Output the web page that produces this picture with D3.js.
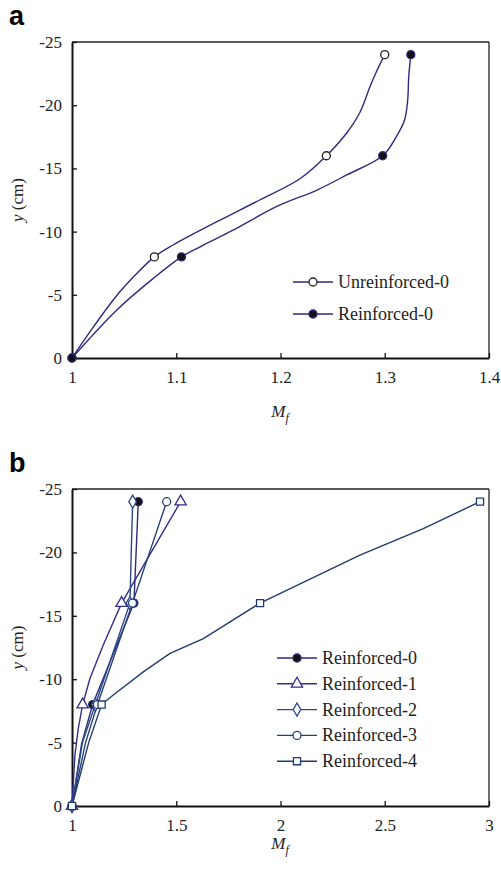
<!DOCTYPE html>
<html>
<head>
<meta charset="utf-8">
<script src="https://cdn.jsdelivr.net/npm/d3@7"></script>
<style>
  body { margin: 0; background: #fff; }
  svg text { font-family: "Liberation Serif", "DejaVu Serif", serif; }
  svg text.letter { font-family: "Liberation Sans", "DejaVu Sans", sans-serif; }
</style>
</head>
<body>
<svg id="chart" width="501" height="872"></svg>
<script>
// depths (cm) at which the markers sit
var depths = [0, -8, -16, -24];
var yTicks = [0, -5, -10, -15, -20, -25];

// panel a
var aXTicks = [1, 1.1, 1.2, 1.3, 1.4];
var aUnreinforcedMf = [1, 1.079, 1.244, 1.300];
var aReinforcedMf = [1, 1.105, 1.298, 1.325];
// traced curve points [Mf, y]
var aUnreinforcedPath = [[1, 0], [1.02, -2.4], [1.042, -4.85], [1.06, -6.5], [1.079, -8], [1.097, -8.94],
  [1.139, -10.78], [1.180, -12.5], [1.219, -14.2], [1.244, -16], [1.2635, -17.8], [1.276, -19.4],
  [1.286, -21.5], [1.292, -22.65], [1.300, -24]];
var aReinforcedPath = [[1, 0], [1.043, -3.8], [1.078, -6.3], [1.105, -8], [1.123, -8.8], [1.155, -10.13],
  [1.196, -11.97], [1.235, -13.29], [1.2635, -14.48], [1.298, -16], [1.311, -17.5], [1.319, -18.83],
  [1.322, -20.4], [1.323, -22.25], [1.325, -24]];

// panel b
var bXTicks = [1, 1.5, 2, 2.5, 3];
var bReinforced0Mf = [1, 1.099, 1.297, 1.318];
var bReinforced1Mf = [1, 1.051, 1.238, 1.521];
var bReinforced2Mf = [1, 1.112, 1.278, 1.291];
var bReinforced3Mf = [1, 1.122, 1.290, 1.454];
var bReinforced4Mf = [1, 1.142, 1.902, 2.957];
var bReinforced0Path = [[1, 0], [1.046, -4.9], [1.099, -8], [1.297, -16], [1.318, -24]];
var bReinforced1Path = [[1, 0], [1.014, -4], [1.030, -6.1], [1.051, -8], [1.086, -10.06], [1.15, -12.7],
  [1.238, -16], [1.521, -24]];
var bReinforced2Path = [[1, 0], [1.05, -5], [1.112, -8], [1.278, -16], [1.284, -20], [1.291, -24]];
var bReinforced3Path = [[1, 0], [1.065, -5], [1.122, -8], [1.290, -16], [1.454, -24]];
var bReinforced4Path = [[1, 0], [1.08, -5], [1.142, -8], [1.198, -8.75], [1.342, -10.58], [1.47, -12.03],
  [1.63, -13.2], [1.902, -16], [2.381, -19.78], [2.685, -21.88], [2.957, -24]];

var svg = d3.select("#chart");

function drawPanel(opt) {
    var x = d3.scaleLinear().domain(opt.xDomain).range([72, 489]);
    var y = d3.scaleLinear().domain([0, -25]).range([opt.bottom, opt.top]);
    var g = svg.append("g");

    // panel letter
    g.append("text").attr("class", "letter")
        .attr("x", 9).attr("y", opt.top - 17)
        .attr("font-weight", "bold").attr("font-size", 27)
        .text(opt.letter);

    // frame: top/right thin
    g.append("line").attr("x1", 72).attr("x2", 489).attr("y1", opt.top).attr("y2", opt.top)
        .attr("stroke", "#222").attr("stroke-width", 1.3);
    g.append("line").attr("x1", 489).attr("x2", 489).attr("y1", opt.top).attr("y2", opt.bottom)
        .attr("stroke", "#222").attr("stroke-width", 1.3);

    var xAxis = d3.axisBottom(x).tickValues(opt.xTicks).tickSizeInner(-5).tickSizeOuter(0)
        .tickPadding(13).tickFormat(d3.format("~g"));
    var xg = g.append("g").attr("transform", "translate(0," + opt.bottom + ")").call(xAxis);
    // plain hyphen for negative labels, as in the original
    var yAxis = d3.axisLeft(y).tickValues(yTicks).tickSizeInner(-5).tickSizeOuter(0)
        .tickPadding(10).tickFormat(function (d) { return String(d); });
    var yg = g.append("g").attr("transform", "translate(72,0)").call(yAxis);
    [xg, yg].forEach(function (a) {
        a.attr("font-family", null);
        a.select(".domain").attr("stroke", "#111").attr("stroke-width", 2);
        a.selectAll(".tick line").attr("stroke", "#111").attr("stroke-width", 1.3);
        a.selectAll(".tick text").attr("font-size", 17).attr("fill", "#222");
    });

    // axis titles
    var xt = g.append("text").attr("x", 280).attr("y", opt.bottom + opt.xTitleGap)
        .attr("text-anchor", "middle").attr("font-size", 17).attr("fill", "#222");
    xt.append("tspan").attr("font-style", "italic").text("M");
    xt.append("tspan").attr("font-style", "italic").attr("font-size", 12).attr("dy", 5).text("f");

    var yt = g.append("text")
        .attr("transform", "translate(23," + ((opt.top + opt.bottom) / 2) + ") rotate(-90)")
        .attr("text-anchor", "middle").attr("font-size", 17).attr("fill", "#222");
    yt.append("tspan").attr("font-style", "italic").text("y");
    yt.append("tspan").text(" (cm)");

    var line = d3.line().x(function (d) { return x(d[0]); }).y(function (d) { return y(d[1]); })
        .curve(opt.curve);

    opt.series.forEach(function (s) {
        g.append("path").datum(s.path).attr("d", line).attr("fill", "none")
            .attr("stroke", s.color).attr("stroke-width", 1.4);
    });
    opt.series.forEach(function (s) {
        s.mf.forEach(function (v, i) {
            drawMarker(g, s, x(v), y(depths[i]));
        });
    });

    // legend
    opt.series.forEach(function (s, i) {
        var ly = opt.legendY + i * opt.legendStep;
        g.append("line").attr("x1", opt.legendX).attr("x2", opt.legendX + 40)
            .attr("y1", ly).attr("y2", ly).attr("stroke", s.color).attr("stroke-width", 1.4);
        drawMarker(g, s, opt.legendX + 20, ly);
        g.append("text").attr("x", opt.legendX + 45).attr("y", ly + 6)
            .attr("font-size", 18).attr("fill", "#222").text(s.name);
    });
}

function drawMarker(g, s, cx, cy) {
    var fill = s.filled ? "#111" : "#fff";
    var stroke = s.markerStroke || s.color;
    if (s.shape === "circle") {
        g.append("circle").attr("cx", cx).attr("cy", cy).attr("r", 4)
            .attr("fill", fill).attr("stroke", stroke).attr("stroke-width", 1.3);
    } else {
        var sym = { triangle: d3.symbolTriangle, diamond: d3.symbolDiamond, square: d3.symbolSquare }[s.shape];
        var size = { triangle: 55, diamond: 50, square: 50 }[s.shape];
        g.append("path").attr("d", d3.symbol().type(sym).size(size)())
            .attr("transform", "translate(" + cx + "," + cy + ")")
            .attr("fill", fill).attr("stroke", stroke).attr("stroke-width", 1.3);
    }
}

drawPanel({
    letter: "a", top: 42, bottom: 358, xDomain: [1, 1.4], xTicks: aXTicks, xTitleGap: 59,
    curve: d3.curveCatmullRom.alpha(0.5),
    legendX: 293, legendY: 282, legendStep: 32,
    series: [
        { name: "Unreinforced-0", mf: aUnreinforcedMf, path: aUnreinforcedPath, color: "#2d2b7e",
          shape: "circle", filled: false, markerStroke: "#222" },
        { name: "Reinforced-0", mf: aReinforcedMf, path: aReinforcedPath, color: "#2d2b7e",
          shape: "circle", filled: true }
    ]
});

drawPanel({
    letter: "b", top: 489, bottom: 806, xDomain: [1, 3], xTicks: bXTicks, xTitleGap: 43,
    curve: d3.curveLinear,
    legendX: 277, legendY: 658, legendStep: 25.8,
    series: [
        { name: "Reinforced-0", mf: bReinforced0Mf, path: bReinforced0Path, color: "#2d2b7e",
          shape: "circle", filled: true },
        { name: "Reinforced-1", mf: bReinforced1Mf, path: bReinforced1Path, color: "#332f8a",
          shape: "triangle", filled: false },
        { name: "Reinforced-2", mf: bReinforced2Mf, path: bReinforced2Path, color: "#2c4882",
          shape: "diamond", filled: false },
        { name: "Reinforced-3", mf: bReinforced3Mf, path: bReinforced3Path, color: "#25417a",
          shape: "circle", filled: false },
        { name: "Reinforced-4", mf: bReinforced4Mf, path: bReinforced4Path, color: "#1f3c6e",
          shape: "square", filled: false }
    ]
});
</script>
</body>
</html>
